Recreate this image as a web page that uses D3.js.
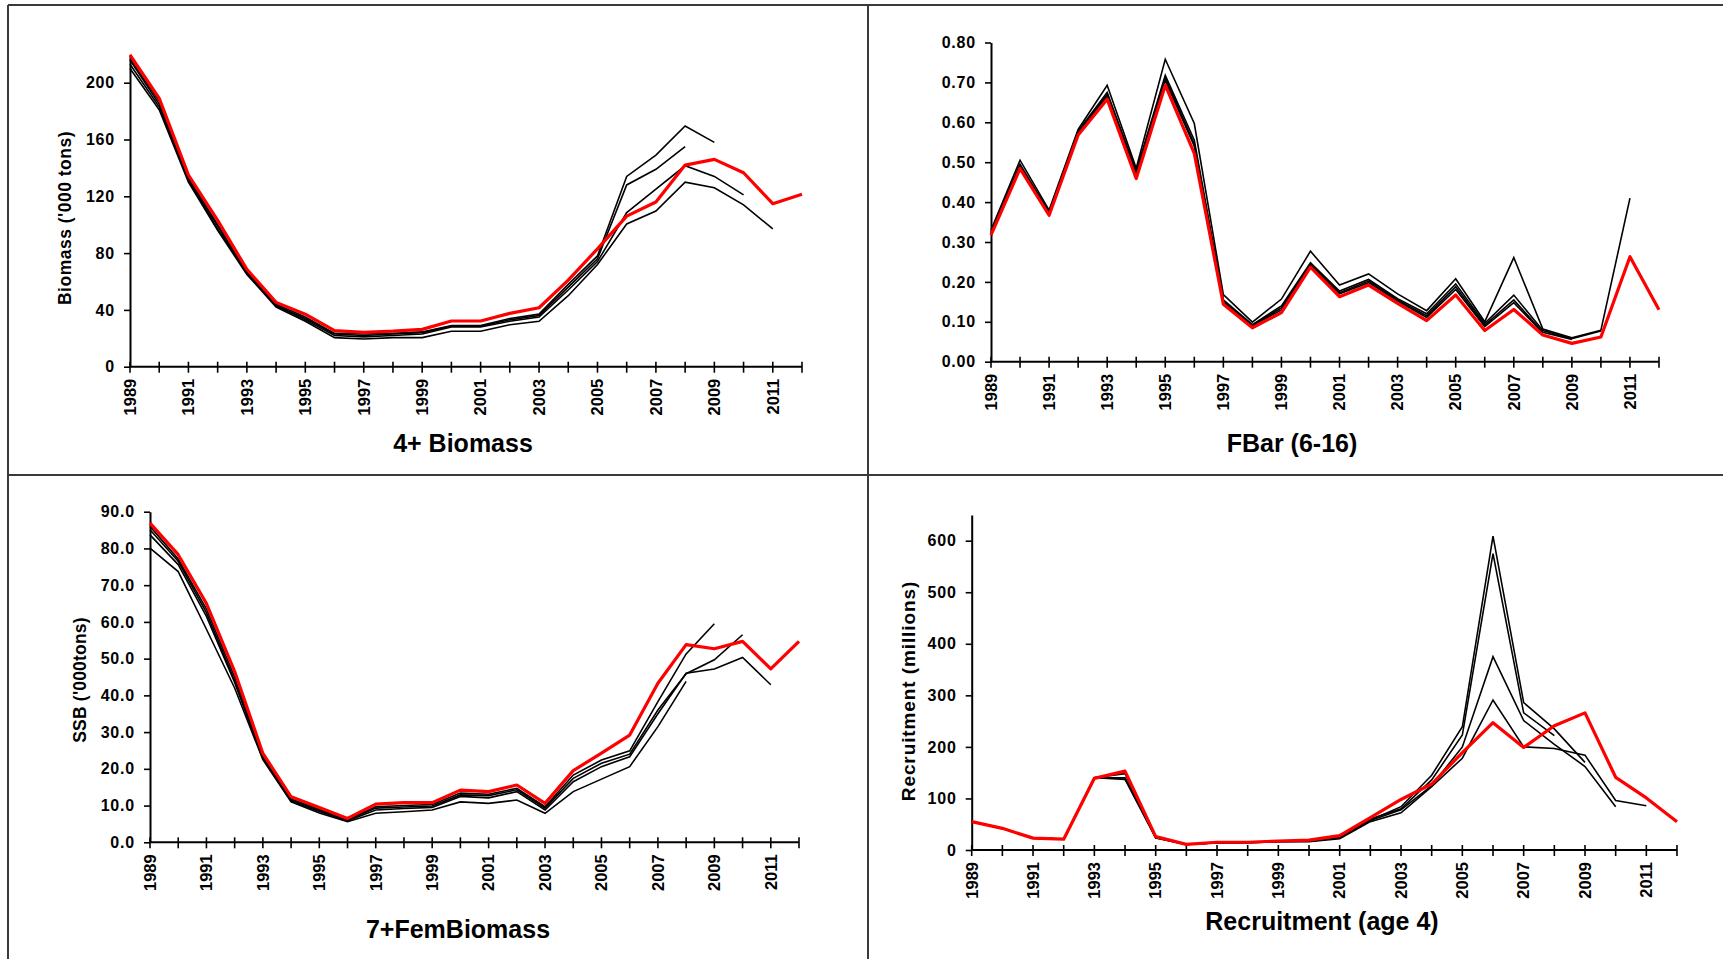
<!DOCTYPE html>
<html lang="en">
<head>
<meta charset="UTF-8">
<title>Retrospective plots</title>
<style>
  body { margin: 0; background: #fff; font-family: "Liberation Sans", Arial, sans-serif; }
  svg text { font-family: "Liberation Sans", Arial, sans-serif; font-weight: bold; fill: #000; }
</style>
</head>
<body>
<svg id="chart" width="1723" height="959"></svg>
<script src="https://d3js.org/d3.v7.min.js"></script>
<script>
const years = [1989, 1990, 1991, 1992, 1993, 1994, 1995, 1996, 1997, 1998, 1999, 2000,
               2001, 2002, 2003, 2004, 2005, 2006, 2007, 2008, 2009, 2010, 2011, 2012];
const yearLabels = ["1989", "1991", "1993", "1995", "1997", "1999", "2001", "2003", "2005", "2007", "2009", "2011"];

// 4+ Biomass ('000 t): final run (red) and retro peels ending 2011, 2010, 2009, 2008
const biomassFinal = [219.5, 189, 135, 103, 68.6, 45.3, 37, 25.4, 24.2, 25, 26.3, 32.2, 32.2, 37.6, 41.5, 61, 83, 106, 116, 142, 146, 136.6, 114.8, 121.4];
const biomass2011 = [210, 181, 130, 96, 65, 42, 32, 20.5, 19.5, 20.5, 20.5, 25, 25, 29.5, 32, 50, 72, 100.5, 109.6, 130, 126, 114, 97];
const biomass2010 = [213, 183, 131, 97, 66, 43, 33, 22, 21, 22, 23, 28, 28, 32, 35, 54, 74, 108.5, 125, 141.5, 134, 121];
const biomass2009 = [217, 187, 133, 100, 67, 44, 35, 23.5, 23, 23.5, 24.5, 29, 29, 34, 37, 58, 78, 134, 149, 169.5, 158];
const biomass2008 = [216, 185, 132, 99, 66, 43, 34, 23, 22, 23, 24, 28.5, 28.5, 33, 36, 56, 76, 128, 139, 155];

// FBar (6-16)
const fbarFinal = [0.317, 0.484, 0.367, 0.568, 0.658, 0.459, 0.693, 0.522, 0.144, 0.085, 0.123, 0.237, 0.163, 0.192, 0.146, 0.103, 0.167, 0.078, 0.131, 0.067, 0.046, 0.062, 0.263, 0.13];
const fbar2011 = [0.33, 0.505, 0.38, 0.582, 0.693, 0.485, 0.758, 0.597, 0.168, 0.099, 0.157, 0.277, 0.192, 0.22, 0.17, 0.128, 0.208, 0.10, 0.261, 0.082, 0.06, 0.079, 0.41];
const fbar2010 = [0.325, 0.495, 0.375, 0.578, 0.675, 0.478, 0.718, 0.555, 0.155, 0.093, 0.14, 0.248, 0.177, 0.206, 0.158, 0.12, 0.195, 0.096, 0.167, 0.078, 0.058, 0.077];
const fbar2009 = [0.322, 0.49, 0.372, 0.575, 0.67, 0.472, 0.712, 0.545, 0.152, 0.091, 0.135, 0.244, 0.173, 0.202, 0.155, 0.115, 0.188, 0.092, 0.155, 0.074, 0.056];
const fbar2008 = [0.32, 0.488, 0.37, 0.572, 0.665, 0.468, 0.705, 0.54, 0.15, 0.09, 0.13, 0.24, 0.17, 0.198, 0.152, 0.111, 0.181, 0.088, 0.148, 0.072];

// 7+ female biomass (SSB, '000 t)
const ssbFinal = [86.9, 78.3, 65, 46.5, 24.2, 12.4, 9.5, 6.5, 10.4, 10.8, 10.8, 14.2, 13.8, 15.6, 10.6, 19.5, 24.3, 29.2, 43.3, 53.8, 52.7, 54.7, 47.2, 54.7];
const ssb2011 = [83.7, 75.6, 61.5, 43.5, 22.8, 11.2, 8.4, 5.8, 8.8, 9.2, 9.5, 12.5, 12.1, 13.8, 8.8, 16.5, 20.6, 23.3, 35, 46, 47.2, 50.3, 42.9];
const ssb2010 = [85.1, 76.5, 62.5, 44, 23, 11.5, 8.7, 6, 9.3, 9.6, 9.9, 12.9, 12.7, 14.3, 9.3, 17.4, 21.5, 24, 36, 45.9, 49.7, 56.5];
const ssb2009 = [86, 77.1, 63.5, 45, 23.5, 11.8, 9, 6.2, 9.7, 10, 10.3, 13.4, 13.1, 14.7, 9.7, 18.3, 22.4, 24.9, 38.3, 51.3, 59.5];
const ssb2008 = [80.1, 73.7, 58, 42, 22.5, 11, 8, 5.6, 7.9, 8.3, 8.8, 11, 10.6, 11.5, 7.9, 13.8, 17.2, 20.6, 31.5, 43.8];

// Recruitment at age 4 (millions)
const recFinal = [55, 42, 23, 21, 139, 153, 26, 11, 15, 15, 17.5, 19, 28, 63, 98, 128, 189, 247, 199, 241, 266, 141, 101, 55];
const rec2011 = [55, 42, 23, 21, 140, 137, 23, 11, 14, 14, 16, 16, 22, 55, 72, 123, 178, 291, 200, 197, 184, 96, 86];
const rec2010 = [55, 42, 23, 21, 140, 140, 24, 11, 14, 14, 16, 17, 24, 57, 78, 125, 200, 375, 251, 205, 162, 84];
const rec2009 = [55, 42, 23, 21, 140, 148, 24, 11, 14, 15, 17, 18, 25, 58, 84, 145, 239, 609, 286, 235, 170];
const rec2008 = [55, 42, 23, 21, 140, 151, 25, 11, 14, 15, 17, 18, 26, 60, 80, 136, 223, 575, 266, 222];

const svg = d3.select("#chart");

// table-like cell borders
const borders = [
  [8, 5, 1723, 5], [8, 475, 1723, 475],
  [8, 5, 8, 959], [868, 5, 868, 959]
];
svg.selectAll("line.cell").data(borders).enter().append("line")
  .attr("class", "cell")
  .attr("x1", d => d[0]).attr("y1", d => d[1])
  .attr("x2", d => d[2]).attr("y2", d => d[3])
  .attr("stroke", "#3a3a3a").attr("stroke-width", 2);

const panels = [
  { title: "4+ Biomass", ylab: "Biomass ('000 tons)", ylabSize: 17.5, ylabSpace: 0.5, ylabX: 65, ylabY: 218,
    left: 130, right: 802, bottom: 366.7, top: 54.3, max: 220, ticks: d3.range(0, 201, 40), fmt: d3.format("d"),
    titleX: 463, titleY: 452, final: biomassFinal, retro: [biomass2011, biomass2010, biomass2009, biomass2008] },
  { title: "FBar (6-16)", ylab: null,
    left: 991, right: 1659, bottom: 361.7, top: 42.5, max: 0.8, ticks: d3.range(0, 8.5, 1).map(d => d / 10), fmt: d3.format(".2f"),
    titleX: 1292, titleY: 452, final: fbarFinal, retro: [fbar2011, fbar2010, fbar2009, fbar2008] },
  { title: "7+FemBiomass", ylab: "SSB ('000tons)", ylabSize: 17.5, ylabSpace: 0.2, ylabX: 80, ylabY: 680,
    left: 150, right: 799, bottom: 842.3, top: 511.7, max: 90, ticks: d3.range(0, 91, 10), fmt: d3.format(".1f"),
    titleX: 458, titleY: 938, final: ssbFinal, retro: [ssb2011, ssb2010, ssb2009, ssb2008] },
  { title: "Recruitment (age 4)", ylab: "Recruitment  (millions)", ylabSize: 19, ylabSpace: 0.9, ylabX: 908, ylabY: 691,
    left: 971.7, right: 1677, bottom: 850, top: 514.9, max: 650, ticks: d3.range(0, 601, 100), fmt: d3.format("d"),
    titleX: 1322, titleY: 930, final: recFinal, retro: [rec2011, rec2010, rec2009, rec2008] }
];

panels.forEach(p => {
  const x = d3.scaleLinear().domain([years[0], years[years.length - 1]]).range([p.left, p.right]);
  const y = d3.scaleLinear().domain([0, p.max]).range([p.bottom, p.top]);
  const g = svg.append("g");

  // y axis
  const yAxis = g.append("g")
    .attr("transform", `translate(${p.left},0)`)
    .call(d3.axisLeft(y).tickValues(p.ticks).tickFormat(p.fmt).tickSizeOuter(0).tickSizeInner(6).tickPadding(9));
  yAxis.select(".domain").attr("stroke", "#000").attr("stroke-width", 2);
  yAxis.selectAll(".tick line").attr("stroke", "#000").attr("stroke-width", 1.6);
  yAxis.selectAll(".tick text").attr("font-size", 16).attr("font-weight", "bold")
    .attr("letter-spacing", 0.8)
    .attr("font-family", "Liberation Sans, Arial, sans-serif");

  // x axis with crossing ticks at every year
  const xAxis = g.append("g").attr("transform", `translate(0,${p.bottom})`);
  xAxis.append("line").attr("x1", p.left).attr("x2", p.right)
    .attr("stroke", "#000").attr("stroke-width", 2);
  xAxis.selectAll("line.tk").data(years).enter().append("line")
    .attr("class", "tk")
    .attr("x1", d => x(d)).attr("x2", d => x(d))
    .attr("y1", -5).attr("y2", 6)
    .attr("stroke", "#000").attr("stroke-width", 1.6);
  xAxis.selectAll("text").data(yearLabels).enter().append("text")
    .attr("transform", d => `translate(${x(+d) + 5.8},12) rotate(-90)`)
    .attr("text-anchor", "end")
    .attr("font-size", 16.5)
    .text(d => d);

  // lines
  const line = d3.line().x((d, i) => x(years[i])).y(d => y(d));
  g.selectAll("path.retro").data(p.retro).enter().append("path")
    .attr("class", "retro")
    .attr("d", line)
    .attr("fill", "none").attr("stroke", "#000").attr("stroke-width", 1.6)
    .attr("stroke-linejoin", "miter");
  g.append("path").datum(p.final)
    .attr("d", line)
    .attr("fill", "none").attr("stroke", "#ff0000").attr("stroke-width", 3.2)
    .attr("stroke-linejoin", "round");

  // titles
  g.append("text").attr("x", p.titleX).attr("y", p.titleY)
    .attr("text-anchor", "middle").attr("font-size", 25).text(p.title);
  if (p.ylab) {
    g.append("text")
      .attr("transform", `translate(${p.ylabX + p.ylabSize * 0.35},${p.ylabY}) rotate(-90)`)
      .attr("text-anchor", "middle")
      .attr("font-size", p.ylabSize)
      .attr("letter-spacing", p.ylabSpace)
      .text(p.ylab);
  }
});
</script>
</body>
</html>
